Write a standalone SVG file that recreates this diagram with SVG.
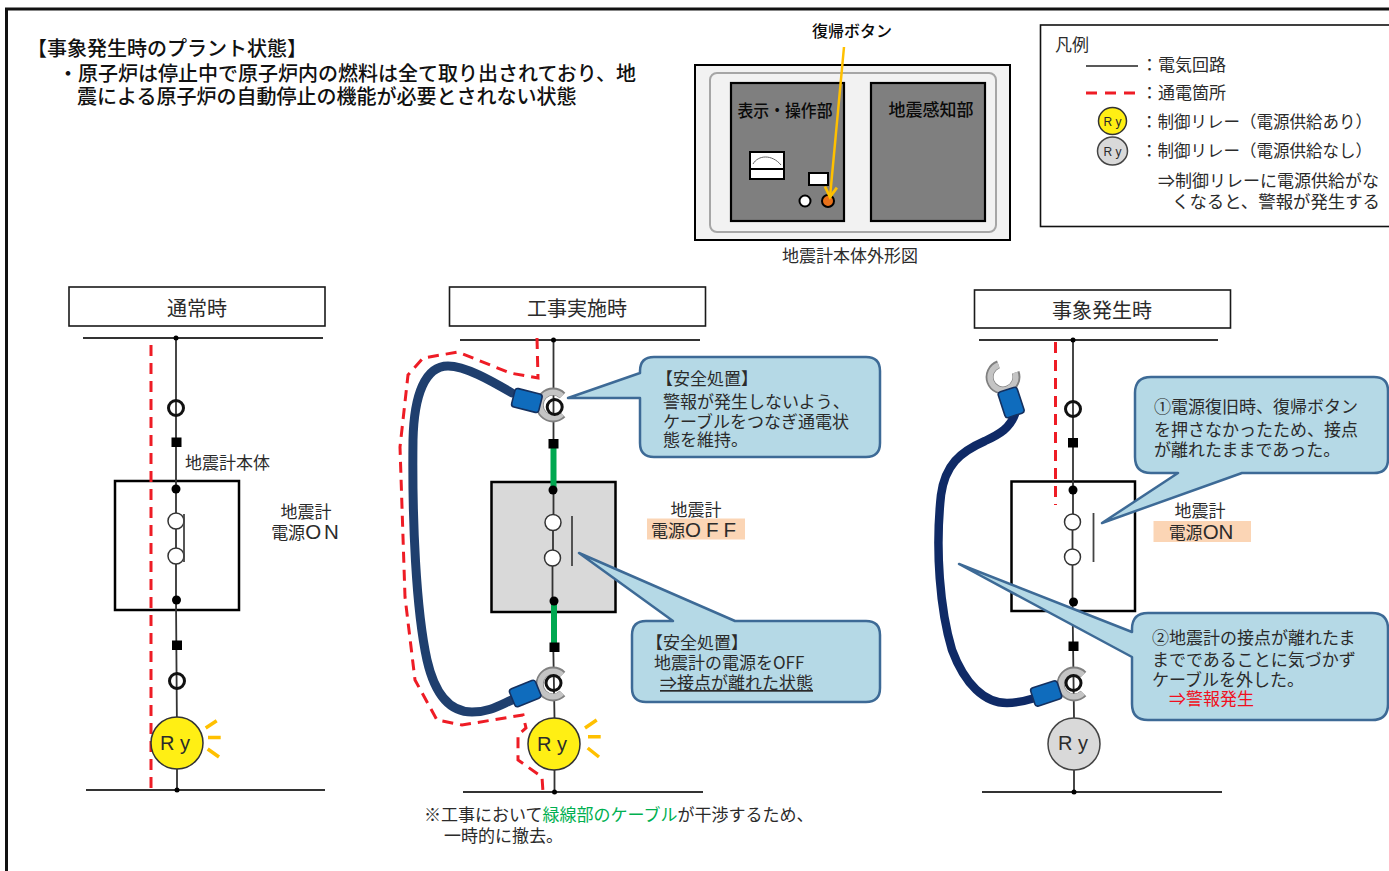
<svg xmlns="http://www.w3.org/2000/svg" xmlns:xlink="http://www.w3.org/1999/xlink" width="1389" height="871" viewBox="0 0 1389 871">
<style>
text{font-family:"Noto Sans CJK JP","Noto Sans",sans-serif;font-size:17px;fill:#2b2b2b}
.h{font-size:20px;fill:#111;font-weight:500}
.t{font-size:20px;text-anchor:middle}
.m{text-anchor:middle}
.d{fill:#0a0a0a;font-weight:500}
.lat{font-family:"Liberation Sans",sans-serif;font-size:20.500px}
.ry{font-family:"Liberation Sans",sans-serif;font-size:20px;text-anchor:middle}
.ryl{font-family:"Liberation Sans",sans-serif;font-size:12px;text-anchor:middle}
.title{fill:#fff;stroke:#1a1a1a;stroke-width:1.6}
.wire{stroke:#333;stroke-width:1.8;fill:none}
.red{stroke:#ee1c25;stroke-width:3;stroke-dasharray:11 7;fill:none}
.green{stroke:#00a850;stroke-width:6;fill:none}
.box{fill:#fff;fill-opacity:0;stroke:#000;stroke-width:2.5}
.ring{fill:none;stroke:#111;stroke-width:3}
.wc{fill:#fff;stroke:#333;stroke-width:1.5}
.bar{stroke:#444;stroke-width:1.8}
.dot{fill:#000}
.yel{fill:#ffef14;stroke:#333;stroke-width:1.5}
.gry{fill:#d9d9d9;stroke:#444;stroke-width:1.5}
.ray{stroke:#ffc000;stroke-width:3.5;fill:none}
.call{fill:#b5d9e6;stroke:#3d6a96;stroke-width:2.5;stroke-linejoin:round}
.cable{fill:none;stroke:#1f3f6e;stroke-width:9;stroke-linecap:round}
.cable2{fill:none;stroke:#0f2a66;stroke-width:8.500;stroke-linecap:round}
.conn{fill:#0f6cbd;stroke:#14305f;stroke-width:1.6}
.orange{fill:#fbd5b5}
.panel{fill:#7f7f7f;stroke:#000;stroke-width:2.2}
</style>
<defs>
<g id="lug">
<path d="M9.5 -9.5A13.4 13.4 0 1 0 9.5 9.5" fill="none" stroke="#808080" stroke-width="8"/>
<path d="M9 -9A12.8 12.8 0 1 0 9 9" fill="none" stroke="#c4c4c4" stroke-width="5.5"/>
</g>
<marker id="ah" markerWidth="16" markerHeight="16" refX="11" refY="7" orient="auto" markerUnits="userSpaceOnUse">
<path d="M1 1L11 7L1 13" fill="none" stroke="#ffc000" stroke-width="2.8"/>
</marker>
</defs>
<rect width="1389" height="871" fill="#fff"/>
<path id="frame" d="M6.5 871V9H1389" fill="none" stroke="#111" stroke-width="3"/>

<g id="header">
<text class="h" x="27" y="56">【事象発生時のプラント状態】</text>
<text class="h" x="58" y="81">・原子炉は停止中で原子炉内の燃料は全て取り出されており、地</text>
<text class="h" x="77" y="104">震による原子炉の自動停止の機能が必要とされない状態</text>
</g>

<g id="meter">
<rect x="695" y="65" width="315" height="175" fill="#f2f2f2" stroke="#000" stroke-width="2"/>
<rect x="710" y="73" width="286" height="159" rx="7" fill="#f2f2f2" stroke="#a6a6a6" stroke-width="2"/>
<rect class="panel" x="731" y="83" width="113" height="138"/>
<rect class="panel" x="871" y="83" width="114" height="138"/>
<rect x="750" y="152" width="34" height="27" fill="#fff" stroke="#000" stroke-width="2"/>
<path d="M750 169H784" stroke="#000" stroke-width="2"/>
<path d="M753 164C758 155 772 154 781 165" fill="none" stroke="#666" stroke-width="1"/>
<rect x="809" y="173" width="19" height="12" fill="#fff" stroke="#000" stroke-width="2"/>
<circle cx="805" cy="201" r="5.500" fill="#fff" stroke="#000" stroke-width="2"/>
<circle cx="828" cy="201" r="6" fill="#e8711a" stroke="#000" stroke-width="2"/>
<text class="m d" x="785" y="117" textLength="95" lengthAdjust="spacingAndGlyphs">表示・操作部</text>
<text class="m d" x="931" y="116">地震感知部</text>
<text class="m d" x="852" y="37" style="font-size:16px">復帰ボタン</text>
<path d="M844 47L830 197" stroke="#ffc000" stroke-width="2.500" fill="none" marker-end="url(#ah)"/>
<text class="m" x="850" y="262">地震計本体外形図</text>
</g>

<g id="legend">
<rect x="1040.500" y="25" width="352" height="201.500" fill="#fff" stroke="#111" stroke-width="1.600"/>
<text x="1055" y="51">凡例</text>
<path d="M1086 66H1138" stroke="#222" stroke-width="1.600"/>
<path d="M1086 93H1136" stroke="#ee1c25" stroke-width="3" stroke-dasharray="11 8"/>
<text x="1141" y="71">：電気回路</text>
<text x="1141" y="99">：通電箇所</text>
<ellipse class="yel" cx="1112.500" cy="121" rx="14" ry="13.500"/>
<text class="ryl" x="1112.500" y="125.500">R y</text>
<ellipse class="gry" cx="1112.500" cy="151" rx="15" ry="14"/>
<text class="ryl" x="1112.500" y="155.500">R y</text>
<text x="1141" y="128" style="font-size:16.500px">：制御リレー（電源供給あり）</text>
<text x="1141" y="157" style="font-size:16.500px">：制御リレー（電源供給なし）</text>
<text x="1158" y="187">⇒制御リレーに電源供給がな</text>
<text x="1172" y="208" style="font-size:17.400px">くなると、警報が発生する</text>
</g>

<g id="title-normal"><rect class="title" x="69" y="287" width="256" height="39"/><text class="t" x="197" y="316">通常時</text></g>
<g id="title-work"><rect class="title" x="449.500" y="287" width="256" height="39"/><text class="t" x="577" y="316">工事実施時</text></g>
<g id="title-event"><rect class="title" x="974.500" y="290" width="256" height="38"/><text class="t" x="1102" y="318">事象発生時</text></g>

<g id="boxes">
<rect id="box-normal" class="box" x="115" y="481" width="124" height="129"/>
<rect id="box-work" class="box" x="491.500" y="482" width="124" height="130" style="fill:#d9d9d9;fill-opacity:1"/>
<rect id="box-event" class="box" x="1011.500" y="481.500" width="123.500" height="129.500"/>
</g>

<g id="connectors">
<path class="wire" d="M83 338H323M86 790H325M176 338V513M176 529V548M176 564V600L177 735M177 769V790"/>
<path class="wire" d="M460 340H700M463 792H703M553.500 340V514M553 531V550M552.500 566V601L554.500 718M554.500 770V792"/>
<path class="wire" d="M979 340H1218M982 792H1222M1073 340V514M1072.500 530V549M1072.500 565V602L1074 718M1074 770V792"/>
<path class="green" d="M553.500 446V490M554 601V646"/>
<path class="red" d="M151 345V790"/>
<path class="red" d="M537 338L538 378L510 373L458 352L423 358L408 375L400 447L405 597L415 680L437 720L462 725L523 715L526 728L518 735L518 760L542 777L543 792"/>
<path class="red" d="M1055.500 342V505"/>
</g>

<g id="node-normal">
<circle class="dot" cx="176" cy="338" r="2.500"/>
<circle class="dot" cx="177" cy="790" r="2.500"/>
<circle class="ring" cx="176" cy="408" r="7.500"/>
<rect class="dot" x="171.500" y="437.500" width="10" height="9.500"/>
<circle class="dot" cx="176" cy="489" r="4.500"/>
<circle class="wc" cx="176" cy="521" r="8"/>
<circle class="wc" cx="176" cy="556" r="8"/>
<path class="bar" d="M184 514V562"/>
<circle class="dot" cx="176.500" cy="600" r="4.500"/>
<rect class="dot" x="172" y="640.500" width="10" height="9.500"/>
<circle class="ring" cx="177" cy="681" r="7.500"/>
<circle class="yel" cx="177" cy="743" r="26"/>
<text class="ry" x="175" y="750">R y</text>
<path class="ray" d="M205.700 728L216.700 720.700M208 737.500H220.700M207.700 749L219 757"/>
<text x="185" y="469">地震計本体</text>
<text class="m" x="306" y="518">地震計</text>
<text class="m" x="306.500" y="539">電源<tspan class="lat" letter-spacing="3">ON</tspan></text>
</g>

<g id="node-work">
<circle class="dot" cx="553.500" cy="340" r="2.500"/>
<circle class="dot" cx="554.500" cy="792" r="2.500"/>
<use xlink:href="#lug" href="#lug" x="553" y="405"/>
<use xlink:href="#lug" href="#lug" x="553" y="684"/>
<path class="cable" d="M512 393C490 380 465 366 448 366C425 366 414 395 413 440C412 520 416 610 427 660C435 695 450 712 472 712C490 712 500 705 514 699"/>
<rect class="conn" x="513" y="391" width="28" height="19" rx="3" transform="rotate(14 527 400)"/>
<rect class="conn" x="511" y="684" width="28" height="19" rx="3" transform="rotate(-22 525 693)"/>
<circle class="ring" cx="554.700" cy="407" r="7.500"/>
<rect class="dot" x="548.500" y="439" width="10" height="9.500"/>
<circle class="dot" cx="553" cy="490" r="4.500"/>
<circle class="wc" cx="553" cy="522.500" r="8"/>
<circle class="wc" cx="552.500" cy="558" r="8"/>
<path class="bar" d="M572 516V566"/>
<circle class="dot" cx="554" cy="601" r="4.500"/>
<rect class="dot" x="549.500" y="642.500" width="10" height="9.500"/>
<circle class="ring" cx="553.500" cy="683" r="7.500"/>
<circle class="yel" cx="554" cy="744" r="26"/>
<text class="ry" x="552" y="751">R y</text>
<path class="ray" d="M585 728L596.700 720M588 736.700H600.700M587.700 748L599 757"/>
<text class="m" x="696" y="516">地震計</text>
<rect class="orange" x="647" y="518.500" width="98" height="21"/>
<text class="m" x="696" y="537">電源<tspan class="lat" letter-spacing="5">OFF</tspan></text>
</g>

<g id="node-event">
<circle class="dot" cx="1073" cy="340" r="2.500"/>
<circle class="dot" cx="1074" cy="792" r="2.500"/>
<use xlink:href="#lug" href="#lug" transform="translate(1003 377) rotate(-65)"/>
<use xlink:href="#lug" href="#lug" x="1074" y="684"/>
<path class="cable2" d="M1015 414C1010 428 1000 434 985 441C960 452 945 465 941 495C935 550 940 610 952 650C965 685 985 703 1007 703C1018 703 1025 701 1035 698"/>
<rect class="conn" x="1001" y="389" width="20" height="27" rx="3" transform="rotate(-18 1011 402)"/>
<rect class="conn" x="1032" y="684" width="28" height="19" rx="3" transform="rotate(-18 1046 693)"/>
<circle class="ring" cx="1073" cy="409" r="7.500"/>
<rect class="dot" x="1068" y="438" width="10" height="9.500"/>
<circle class="dot" cx="1073" cy="490" r="4.500"/>
<circle class="wc" cx="1072.500" cy="522" r="8"/>
<circle class="wc" cx="1072.500" cy="557" r="8"/>
<path class="bar" d="M1093.500 513V562"/>
<circle class="dot" cx="1073.500" cy="602" r="4.500"/>
<rect class="dot" x="1068.500" y="641.500" width="10" height="9.500"/>
<circle class="ring" cx="1073.500" cy="683" r="7.500"/>
<circle class="gry" cx="1074" cy="744" r="26"/>
<text class="ry" x="1073" y="750">R y</text>
<text class="m" x="1200" y="517">地震計</text>
<rect class="orange" x="1153.500" y="521" width="97.500" height="21"/>
<text class="m" x="1201" y="539">電源<tspan class="lat">ON</tspan></text>
</g>

<g id="callout-1">
<path class="call" d="M654 357H866Q880 357 880 371V443Q880 457 866 457H654Q640 457 640 443V398H568L640 373V371Q640 357 654 357Z"/>
<text x="656" y="385">【安全処置】</text>
<text x="663" y="408">警報が発生しないよう、</text>
<text x="663" y="428">ケーブルをつなぎ通電状</text>
<text x="663" y="446">態を維持。</text>
</g>
<g id="callout-2">
<path class="call" d="M646 621H673L579 553L735 621H866Q880 621 880 635V688Q880 702 866 702H646Q632 702 632 688V635Q632 621 646 621Z"/>
<text x="646" y="649">【安全処置】</text>
<text x="654" y="669">地震計の電源をOFF</text>
<text x="660" y="689" text-decoration="underline">⇒接点が離れた状態</text>
</g>
<g id="callout-3">
<path class="call" d="M1151 377H1374Q1388 377 1388 391V459Q1388 473 1374 473H1242L1102 523L1178 473H1151Q1135 473 1135 457V393Q1135 377 1151 377Z"/>
<text x="1154" y="413">①電源復旧時、復帰ボタン</text>
<text x="1154" y="436">を押さなかったため、接点</text>
<text x="1154" y="456">が離れたままであった。</text>
</g>
<g id="callout-4">
<path class="call" d="M1148 613H1372Q1388 613 1388 629V704Q1388 720 1372 720H1148Q1132 720 1132 704V657L959 564L1132 632V629Q1132 613 1148 613Z"/>
<text x="1152" y="644">②地震計の接点が離れたま</text>
<text x="1152" y="666">までであることに気づかず</text>
<text x="1152" y="686">ケーブルを外した。</text>
<text x="1169" y="705" style="fill:#f01020">⇒警報発生</text>
</g>

<g id="note">
<text x="424" y="821">※工事において<tspan style="fill:#00b050">緑線部のケーブル</tspan>が干渉するため、</text>
<text x="444" y="842">一時的に撤去。</text>
</g>
</svg>
